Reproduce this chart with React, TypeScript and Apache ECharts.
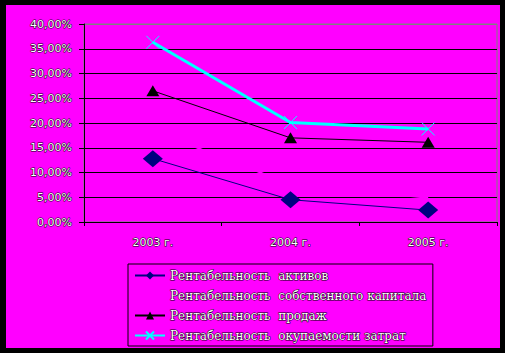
import React, { useEffect, useRef } from "react";
import * as echarts from "echarts";

const categories = ["2003 г.", "2004 г.", "2005 г."];
const seriesNames = [
  "Рентабельность  активов",
  "Рентабельность  собственного капитала",
  "Рентабельность  продаж",
  "Рентабельность  окупаемости затрат",
];
const assets = [12.8, 4.5, 2.4];
const equity = [18.5, 7.6, 4.9];
const sales = [26.5, 17.0, 16.1];
const costs = [36.3, 20.1, 18.8];

const shadow = {
  color: "#FFFFFF",
  textBorderColor: "#000000",
  textBorderWidth: 1,
  textShadowColor: "#000000",
  textShadowOffsetX: 1,
  textShadowOffsetY: 1,
  textShadowBlur: 0,
};

export default function App() {
  const ref = useRef<HTMLDivElement>(null);
  useEffect(() => {
    if (!ref.current) return;
    const chart = echarts.init(ref.current, undefined, { renderer: "svg" });
    chart.setOption({
      animation: false,
      backgroundColor: "transparent",
      grid: {
        left: 78,
        top: 19,
        right: 3,
        bottom: 126,
        show: true,
        borderColor: "#808080",
        borderWidth: 1,
        backgroundColor: "transparent",
      },
      legend: {
        orient: "vertical",
        left: 122,
        top: 259,
        bottom: 0,
        padding: [5, 6, 4, 6],
        itemWidth: 30,
        itemHeight: 10,
        itemGap: 7,
        borderColor: "#000000",
        borderWidth: 1,
        backgroundColor: "#FF00FF",
        textStyle: { ...shadow, fontFamily: "DejaVu Serif", fontSize: 12, lineHeight: 13 },
        data: seriesNames,
      },
      xAxis: {
        type: "category",
        data: categories,
        boundaryGap: true,
        axisLine: { lineStyle: { color: "#000000", width: 1 } },
        axisTick: { show: true, length: 4, lineStyle: { color: "#000000" } },
        axisLabel: { ...shadow, fontFamily: "DejaVu Sans", fontSize: 11, margin: 15 },
        splitLine: { show: false },
      },
      yAxis: {
        type: "value",
        min: 0,
        max: 40,
        interval: 5,
        axisLine: { show: true, lineStyle: { color: "#000000", width: 1 } },
        axisTick: { show: true, length: 5, lineStyle: { color: "#000000" } },
        axisLabel: {
          ...shadow,
          fontFamily: "DejaVu Sans",
          fontSize: 11,
          margin: 12,
          formatter: (v: number) => v.toFixed(2).replace(".", ",") + "%",
        },
        splitLine: {
          show: true,
          lineStyle: {
            color: ["#000000", "#000000", "#000000", "#000000", "#000000", "#000000", "#000000", "#000000", "#808080"],
            width: 1,
          },
        },
      },
      series: [
        {
          name: seriesNames[0],
          type: "line",
          data: assets,
          symbol: "diamond",
          symbolSize: [20, 17],
          lineStyle: { color: "#000080", width: 1 },
          itemStyle: { color: "#000080" },
          z: 4,
        },
        {
          name: seriesNames[1],
          type: "line",
          data: equity,
          symbol: "none",
          lineStyle: { color: "#FF00FF", width: 2 },
          itemStyle: { color: "#FF00FF" },
          z: 2,
        },
        {
          name: seriesNames[2],
          type: "line",
          data: sales,
          symbol: "triangle",
          symbolSize: [13, 11],
          lineStyle: { color: "#000000", width: 1 },
          itemStyle: { color: "#000000" },
          z: 4,
        },
        {
          name: seriesNames[3],
          type: "line",
          data: costs,
          symbol: "path://M0 0L10 10M10 0L0 10",
          symbolSize: 13,
          lineStyle: { color: "#00FFFF", width: 3 },
          itemStyle: { color: "none", borderColor: "#00FFFF", borderWidth: 1 },
          z: 4,
        },
      ],
    });
    return () => chart.dispose();
  }, []);
  return (
    <div style={{ position: "fixed", left: 0, top: 0, width: 505, height: 353, background: "#000000" }}>
      <div
        style={{ position: "absolute", left: 6, top: 5, width: 494, height: 343, background: "#FF00FF" }}
      >
        <div ref={ref} style={{ width: 494, height: 343 }} />
      </div>
    </div>
  );
}
